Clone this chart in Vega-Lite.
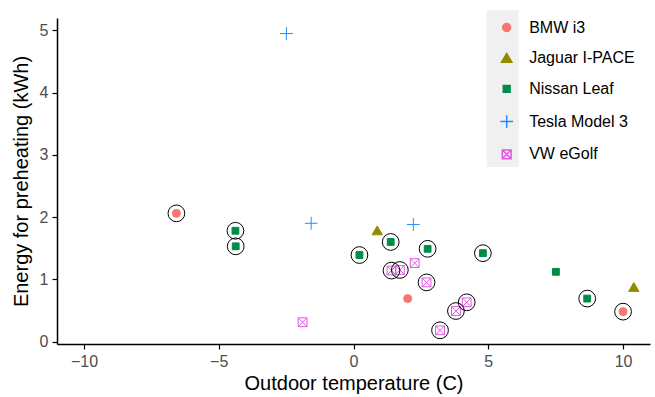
{
  "$schema": "https://vega.github.io/schema/vega-lite/v6.json",
  "autosize": {"type": "none"},
  "padding": {"left": 57, "top": 18, "right": 5, "bottom": 53},
  "width": 593,
  "height": 326,
  "background": "white",
  "config": {
    "view": {"stroke": null},
    "font": "Liberation Sans",
    "axis": {
      "grid": false,
      "domainColor": "black",
      "domainWidth": 1.5,
      "tickColor": "black",
      "tickWidth": 1.2,
      "tickSize": 5,
      "labelColor": "#4D4D4D",
      "labelFontSize": 16,
      "labelPadding": 4,
      "titleFontSize": 20,
      "titleFontWeight": "normal",
      "titleColor": "black"
    }
  },
  "data": {
    "values": [
      {"model": "BMW i3", "temp": -6.57, "energy": 2.06, "circled": true},
      {"model": "BMW i3", "temp": 2.01, "energy": 0.69, "circled": false},
      {"model": "BMW i3", "temp": 10.0, "energy": 0.48, "circled": true},
      {"model": "Jaguar I-PACE", "temp": 0.88, "energy": 1.78, "circled": false},
      {"model": "Jaguar I-PACE", "temp": 10.4, "energy": 0.87, "circled": false},
      {"model": "Nissan Leaf", "temp": -4.38, "energy": 1.78, "circled": true},
      {"model": "Nissan Leaf", "temp": -4.37, "energy": 1.53, "circled": true},
      {"model": "Nissan Leaf", "temp": 0.22, "energy": 1.39, "circled": true},
      {"model": "Nissan Leaf", "temp": 1.38, "energy": 1.6, "circled": true},
      {"model": "Nissan Leaf", "temp": 2.75, "energy": 1.49, "circled": true},
      {"model": "Nissan Leaf", "temp": 4.8, "energy": 1.42, "circled": true},
      {"model": "Nissan Leaf", "temp": 7.51, "energy": 1.12, "circled": false},
      {"model": "Nissan Leaf", "temp": 8.67, "energy": 0.69, "circled": true},
      {"model": "Tesla Model 3", "temp": -2.49, "energy": 4.95, "circled": false},
      {"model": "Tesla Model 3", "temp": -1.57, "energy": 1.9, "circled": false},
      {"model": "Tesla Model 3", "temp": 2.22, "energy": 1.88, "circled": false},
      {"model": "VW eGolf", "temp": -1.89, "energy": 0.31, "circled": false},
      {"model": "VW eGolf", "temp": 2.27, "energy": 1.26, "circled": false},
      {"model": "VW eGolf", "temp": 1.41, "energy": 1.14, "circled": true},
      {"model": "VW eGolf", "temp": 1.72, "energy": 1.15, "circled": true},
      {"model": "VW eGolf", "temp": 2.71, "energy": 0.95, "circled": true},
      {"model": "VW eGolf", "temp": 4.2, "energy": 0.63, "circled": true},
      {"model": "VW eGolf", "temp": 3.8, "energy": 0.49, "circled": true},
      {"model": "VW eGolf", "temp": 3.21, "energy": 0.18, "circled": true}
    ]
  },
  "encoding": {
    "x": {
      "field": "temp", "type": "quantitative",
      "scale": {"domain": [-11, 11], "nice": false, "zero": false},
      "axis": {"values": [-10, -5, 0, 5, 10], "title": "Outdoor temperature (C)", "titlePadding": 4}
    },
    "y": {
      "field": "energy", "type": "quantitative",
      "scale": {"domain": [-0.04, 5.2], "nice": false, "zero": false},
      "axis": {"values": [0, 1, 2, 3, 4, 5], "title": "Energy for preheating (kWh)", "titlePadding": 8}
    }
  },
  "layer": [
    {
      "mark": {"type": "point", "size": 64, "strokeWidth": 1, "opacity": 1},
      "encoding": {
        "shape": {
          "field": "model", "type": "nominal",
          "scale": {"range": [
            "circle",
            "M0,-1.2L1.3,1L-1.3,1Z",
            "M-0.85,-0.85L0.85,-0.85L0.85,0.85L-0.85,0.85Z",
            "M-1.6,0L1.6,0M0,-1.6L0,1.6",
            "M-1.1,-1.1L1.1,-1.1L1.1,1.1L-1.1,1.1ZM-1.1,-1.1L1.1,1.1M1.1,-1.1L-1.1,1.1"
          ]},
          "legend": {
            "title": null, "orient": "none", "legendX": 441.7, "legendY": 1.5,
            "padding": 0, "symbolSize": 64, "labelOffset": 14.5, "labelFontSize": 16,
            "labelColor": "black", "rowPadding": 14.7, "zindex": 1
          }
        },
        "fill": {
          "field": "model", "type": "nominal",
          "scale": {"range": ["#F8766D", "#948A00", "#008B4A", "transparent", "transparent"]}
        },
        "stroke": {
          "field": "model", "type": "nominal",
          "scale": {"range": ["#F8766D", "#948A00", "#008B4A", "#1E90FF", "#E356E3"]}
        },
        "opacity": {
          "field": "model", "type": "nominal",
          "scale": {"domain": ["BMW i3", "Jaguar I-PACE", "Nissan Leaf", "Tesla Model 3", "VW eGolf"], "range": [1, 1, 1, 1, 1]},
          "legend": {
            "title": null, "orient": "none", "legendX": 429.7, "legendY": -8,
            "padding": 6, "symbolSize": 400, "symbolType": "square",
            "symbolFillColor": "transparent", "symbolStrokeColor": "transparent", "symbolStrokeWidth": 0,
            "labelExpr": "''", "labelOffset": 0, "labelFontSize": 1, "rowPadding": 11.2,
            "fillColor": "#F0F0F0", "zindex": 0
          }
        }
      }
    },
    {
      "transform": [{"filter": "datum.circled"}],
      "mark": {"type": "point", "shape": "circle", "size": 280, "filled": false, "stroke": "black", "strokeWidth": 1, "opacity": 1}
    }
  ]
}
